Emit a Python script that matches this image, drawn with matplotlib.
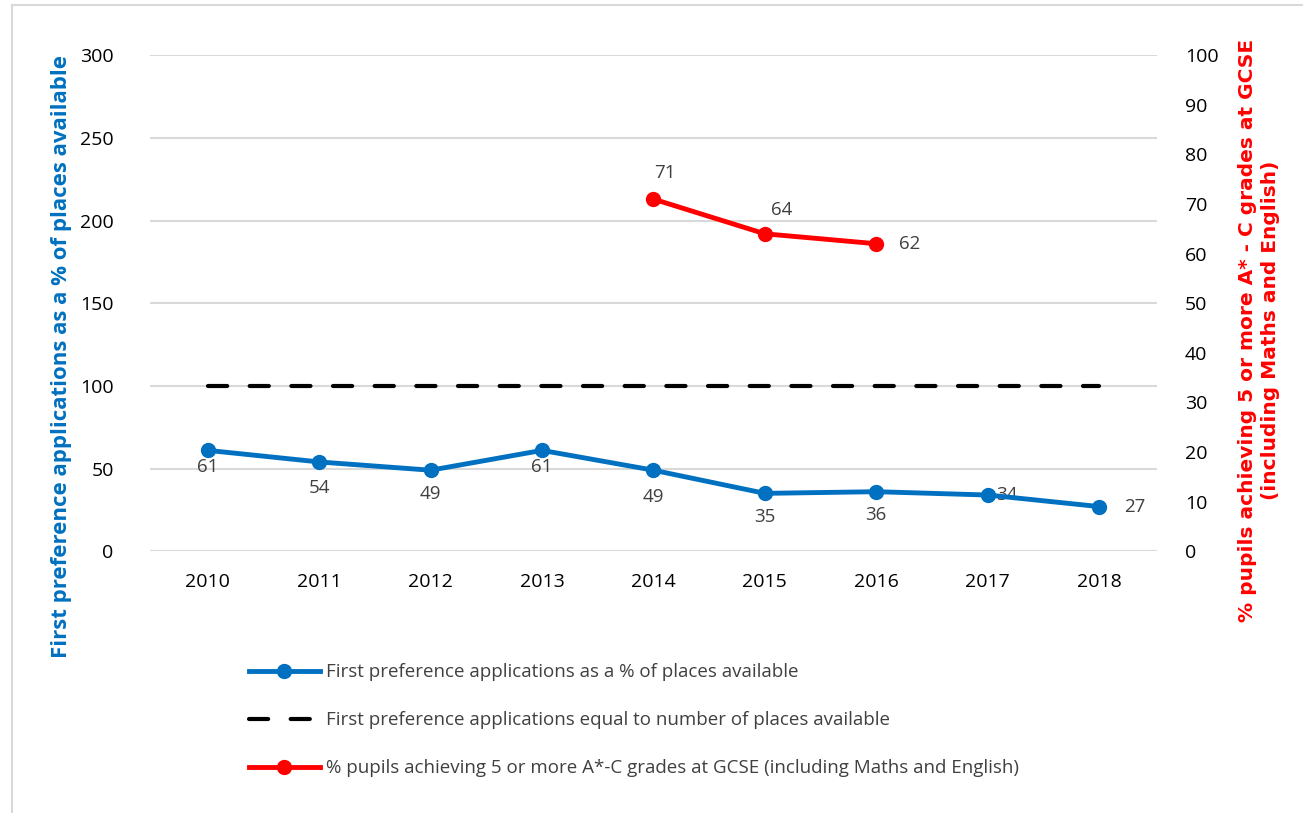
import matplotlib.pyplot as plt
from matplotlib import font_manager
from matplotlib.lines import Line2D

years = ["2010", "2011", "2012", "2013", "2014", "2015", "2016", "2017", "2018"]
first_pref = [61, 54, 49, 61, 49, 35, 36, 34, 27]
equal_line = [100, 100, 100, 100, 100, 100, 100, 100, 100]
gcse_years = ["2014", "2015", "2016"]
gcse = [71, 64, 62]

# label offsets (points) for each data label
pref_offsets = [(0, -12), (0, -19), (0, -17), (0, -12), (0, -19), (0, -17), (0, -17), (14, 0), (26, 0)]
gcse_offsets = [(8, 19), (12, 17), (24, 0)]

blue = "#0070C0"
red = "#FF0000"
txt = "#404040"

names = {f.name for f in font_manager.fontManager.ttflist}
narrow = "DejaVu Sans Condensed" if "DejaVu Sans Condensed" in names else "DejaVu Sans"
plt.rcParams["font.family"] = ["Open Sans", "DejaVu Sans"]

fig = plt.figure(figsize=(13.03, 8.13), dpi=100)
ax = fig.add_axes([0.115, 0.322, 0.773, 0.61])
ax2 = ax.twinx()

x = list(range(len(years)))
gx = [years.index(y) for y in gcse_years]

ax.plot(x, equal_line, color="black", lw=3, dashes=(4.6, 5.4), dash_capstyle="round", zorder=3,
        label="First preference applications equal to number of places available")
ax.plot(x, first_pref, color=blue, lw=3.5, marker="o", ms=10, zorder=4,
        label="First preference applications as a % of places available")
ax2.plot(gx, gcse, color=red, lw=3.5, marker="o", ms=10, zorder=4,
         label="% pupils achieving 5 or more A*-C grades at GCSE (including Maths and English)")

ax.set_xlim(-0.52, len(years) - 0.48)
ax.set_ylim(0, 300)
ax.set_yticks(range(0, 301, 50))
ax2.set_ylim(0, 100)
ax2.set_yticks(range(0, 101, 10))
ax.set_xticks(x)
ax.set_xticklabels(years)
ax.grid(axis="y", color="#D9D9D9", lw=1.5)
ax.set_axisbelow(True)
for a in (ax, ax2):
    for s in a.spines.values():
        s.set_visible(False)
    a.tick_params(length=0, labelsize=14, colors="black")
ax.tick_params(axis="x", pad=16)
ax.tick_params(axis="y", pad=26)
ax2.tick_params(axis="y", pad=20)

# data labels
for i, v in enumerate(first_pref):
    ax.annotate(str(v), (i, v), xytext=pref_offsets[i], textcoords="offset points",
                ha="center", va="center", fontsize=13.5, color=txt)
for k, (i, v) in enumerate(zip(gx, gcse)):
    ax2.annotate(str(v), (i, v), xytext=gcse_offsets[k], textcoords="offset points",
                 ha="center", va="center", fontsize=13.5, color=txt)

fig.text(0.047, 0.561, "First preference applications as a % of places available",
         rotation=90, ha="center", va="center", color=blue, fontsize=16,
         fontweight="bold")
fig.text(0.9665, 0.594, "% pupils achieving 5 or more A* - C grades at GCSE\n(including Maths and English)",
         rotation=90, ha="center", va="center", color=red, fontsize=14.5,
         fontweight="bold", family=narrow, linespacing=1.25)

h1, l1 = ax.get_legend_handles_labels()
h2, l2 = ax2.get_legend_handles_labels()
handles = [h1[1], h1[0], h2[0]]
labels = [l1[1], l1[0], l2[0]]
leg = fig.legend(handles, labels, loc="upper left", bbox_to_anchor=(0.178, 0.205),
                 frameon=False, handlelength=3.8, handletextpad=0.3, labelspacing=1.6,
                 prop={"size": 13.5})
for t in leg.get_texts():
    t.set_color(txt)

fig.add_artist(Line2D([0.0095, 0.0095], [0.0, 0.994], transform=fig.transFigure,
                      color="#D9D9D9", lw=1.5))
fig.add_artist(Line2D([0.0095, 1.0], [0.994, 0.994], transform=fig.transFigure,
                      color="#D9D9D9", lw=1.5))

fig.savefig("out.png", dpi=100)
